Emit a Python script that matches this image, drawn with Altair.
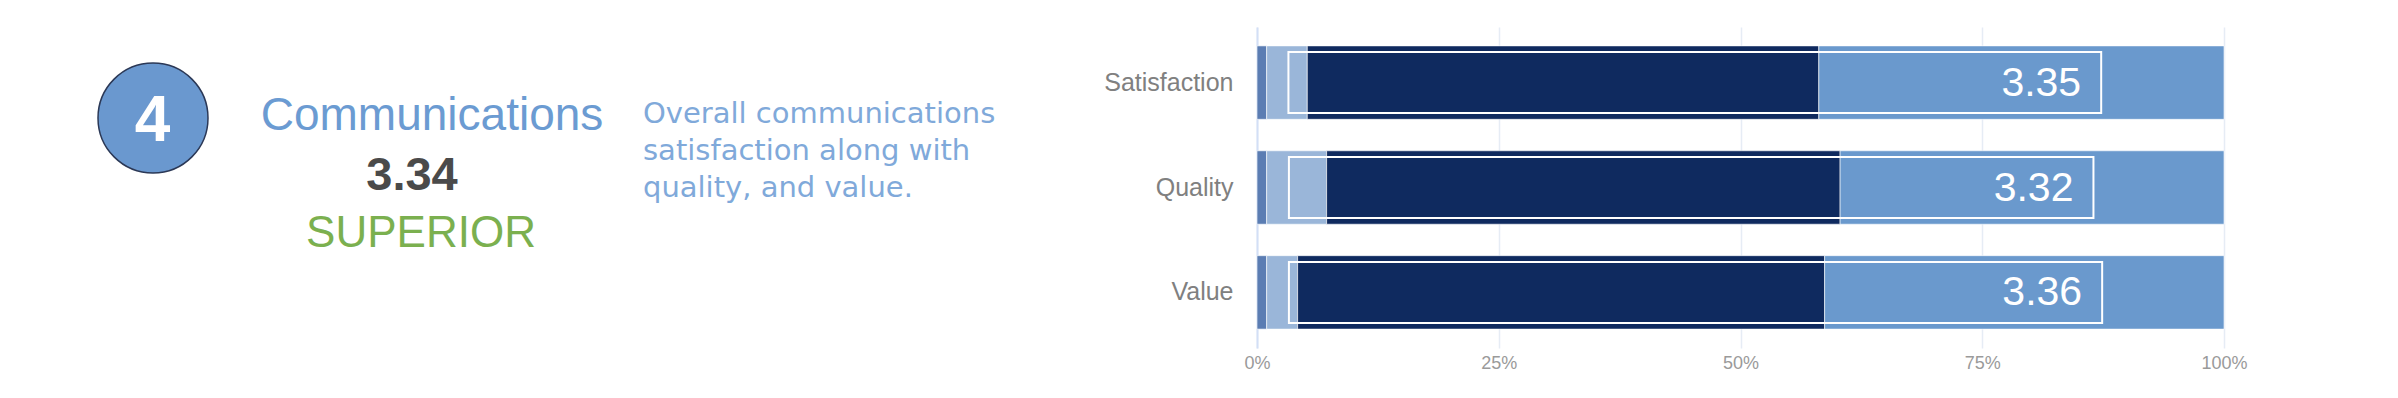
import altair as alt
import pandas as pd

# ---------------- data ----------------
categories = ["Satisfaction", "Quality", "Value"]
ratings = ["Poor", "Fair", "Good", "Superior"]
poor = [1.0, 1.0, 1.0]
fair = [4.2, 6.2, 3.2]
good = [52.9, 53.1, 54.5]
superior = [41.9, 39.7, 41.3]
mean_labels = ["3.35", "3.32", "3.36"]
box_start = [3.25, 3.3, 3.3]
box_end = [87.3, 86.5, 87.4]
x_ticks = [0, 25, 50, 75, 100]

badge_number = "4"
section_title = "Communications"
section_score = "3.34"
section_rating = "SUPERIOR"
section_description = ["Overall communications", "satisfaction along with", "quality, and value."]

rating_colors = ["#5b7db3", "#9ab6d9", "#0f2a5f", "#6a99cd"]

# ---------------- tables ----------------
rows = []
for i, cat in enumerate(categories):
    start = 0.0
    for r, vals in zip(ratings, [poor, fair, good, superior]):
        v = vals[i]
        rows.append({"category": cat, "rating": r, "start": start, "end": start + v})
        start += v
seg_df = pd.DataFrame(rows)

lab_df = pd.DataFrame({
    "category": categories,
    "label": mean_labels,
    "box_start": box_start,
    "box_end": box_end,
})

FONT = "Liberation Sans"

y_enc = alt.Y(
    "category:N",
    sort=categories,
    scale=alt.Scale(paddingInner=0.3, paddingOuter=0.18),
    axis=alt.Axis(
        title=None, ticks=False, domain=True, domainColor="#d3dff6", domainWidth=2,
        labelFontSize=25, labelColor="#808080", labelFont=FONT, labelPadding=24,
    ),
)
x_enc = alt.X(
    "start:Q",
    scale=alt.Scale(domain=[0, 100], nice=False),
    axis=alt.Axis(
        title=None, values=x_ticks, labelExpr="datum.value + '%'", domain=False,
        ticks=False, grid=True, gridColor="#e6ecf5", gridWidth=1.5, labelFlush=False,
        labelFontSize=18, labelColor="#9a9a9a", labelFont=FONT, labelPadding=6,
    ),
)

bars = alt.Chart(seg_df).mark_bar(stroke="white", strokeWidth=1, strokeOpacity=0.6).encode(
    y=y_enc,
    x=x_enc,
    x2="end:Q",
    color=alt.Color("rating:N", scale=alt.Scale(domain=ratings, range=rating_colors), legend=None),
)

boxes = alt.Chart(lab_df).mark_bar(
    filled=False, color="white", strokeWidth=2, height=alt.RelativeBandSize(0.83)
).encode(
    y=alt.Y("category:N", sort=categories),
    x=alt.X("box_start:Q"),
    x2="box_end:Q",
)

labels = alt.Chart(lab_df).mark_text(
    align="right", baseline="middle", dx=-20, dy=1, fontSize=41, color="white", font=FONT
).encode(
    y=alt.Y("category:N", sort=categories),
    x=alt.X("box_end:Q"),
    text="label:N",
)

# ---------------- left-hand header ----------------
badge = alt.Chart(pd.DataFrame({"t": [badge_number]})).mark_point(
    shape="circle", filled=True, fill="#6a98cf", stroke="#2b3856", strokeWidth=1.5,
    size=12100, opacity=1,
).encode(x=alt.value(-1104), y=alt.value(91))

badge_text = alt.Chart(pd.DataFrame({"t": [badge_number]})).mark_text(
    fontSize=64, fontWeight="bold", color="white", align="center", baseline="alphabetic", font=FONT
).encode(x=alt.value(-1104.5), y=alt.value(113.7), text="t:N")

title_text = alt.Chart(pd.DataFrame({"t": [section_title]})).mark_text(
    fontSize=46, color="#6b9bd2", align="center", baseline="alphabetic", font=FONT
).encode(x=alt.value(-825), y=alt.value(103), text="t:N")

score_text = alt.Chart(pd.DataFrame({"t": [section_score]})).mark_text(
    fontSize=47, fontWeight="bold", color="#4a4a4a", align="center", baseline="alphabetic", font=FONT
).encode(x=alt.value(-845), y=alt.value(163), text="t:N")

rating_text = alt.Chart(pd.DataFrame({"t": [section_rating]})).mark_text(
    fontSize=44, color="#7bb04f", align="center", baseline="alphabetic", font=FONT
).encode(x=alt.value(-836), y=alt.value(220), text="t:N")

desc_text = alt.Chart(pd.DataFrame({"t": ["\n".join(section_description)]})).mark_text(
    fontSize=29, color="#80a9da", align="left", baseline="alphabetic",
    font="DejaVu Sans", lineBreak="\n", lineHeight=36.7,
).encode(x=alt.value(-614), y=alt.value(96.3), text="t:N")

chart = alt.layer(
    bars, boxes, labels, badge, badge_text, title_text, score_text, rating_text, desc_text
).properties(
    width=967,
    height=321,
    background="white",
    autosize=alt.AutoSizeParams(type="none"),
    padding={"left": 1249, "top": 19, "right": 120, "bottom": 40},
).configure_view(stroke=None)

chart.save("out.html", embed_options={"renderer": "svg", "actions": False})
